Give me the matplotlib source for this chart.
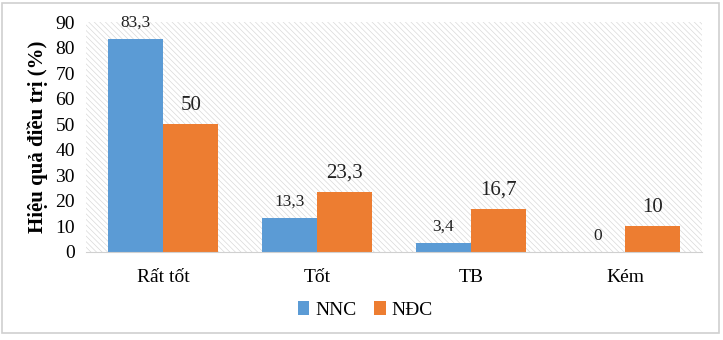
import numpy as np
import matplotlib
matplotlib.use("Agg")
import matplotlib.pyplot as plt
from matplotlib.patches import Rectangle

categories = ["Rất tốt", "Tốt", "TB", "Kém"]
nnc = [83.3, 13.3, 3.4, 0]
ndc = [50, 23.3, 16.7, 10]
nnc_labels = ["83,3", "13,3", "3,4", "0"]
ndc_labels = ["50", "23,3", "16,7", "10"]

plt.rcParams['font.family'] = ['Liberation Serif', 'DejaVu Serif']
plt.rcParams['hatch.linewidth'] = 0.5
plt.rcParams['hatch.color'] = '#d9d9d9'

fig = plt.figure(figsize=(7.23, 3.4), dpi=100)
ax = fig.add_axes([0.119, 0.259, 0.852, 0.676])

# hatched plot background
ax.patch.set_facecolor('white')
ax.patch.set_hatch('\\\\\\\\\\\\')
ax.patch.set_edgecolor('#d9d9d9')
ax.patch.set_linewidth(0)

x = np.arange(len(categories))
w = 0.36
b1 = ax.bar(x - w / 2, nnc, w, color='#5B9BD5', label='NNC', zorder=3)
b2 = ax.bar(x + w / 2, ndc, w, color='#ED7D31', label='NĐC', zorder=3)

for rect, lab in zip(b1, nnc_labels):
    ax.annotate(lab, (rect.get_x() + rect.get_width() / 2, rect.get_height()),
                xytext=(0, 6), textcoords='offset points', ha='center', va='bottom',
                fontsize=12.5, color='#222222')
for rect, lab in zip(b2, ndc_labels):
    ax.annotate(lab, (rect.get_x() + rect.get_width() / 2, rect.get_height()),
                xytext=(0, 7), textcoords='offset points', ha='center', va='bottom',
                fontsize=15, color='#222222')

ax.set_xlim(-0.5, 3.5)
ax.set_ylim(0, 90)
ax.set_yticks(range(0, 91, 10))
ax.set_xticks(x)
ax.set_xticklabels(categories, fontsize=14)
ax.tick_params(axis='y', labelsize=14, length=0, pad=8)
ax.tick_params(axis='x', length=0, pad=12)
for s in ['top', 'right', 'left']:
    ax.spines[s].set_visible(False)
ax.spines['bottom'].set_color('#d0d0d0')
ax.spines['bottom'].set_zorder(4)

ax.set_ylabel('Hiệu quả điều trị (%)', fontsize=15, fontweight='bold', labelpad=5)

fig.legend(handles=[b1, b2], loc='center', bbox_to_anchor=(0.505, 0.088), ncol=2,
           frameon=False, fontsize=14, handlelength=0.6, handleheight=0.7,
           handletextpad=0.3, columnspacing=0.9)

# outer border
fig.patches.append(Rectangle((0.003, 0.02), 0.992, 0.97, transform=fig.transFigure,
                             fill=False, edgecolor='#d0d0d0', linewidth=1.2))

fig.savefig('out.png', dpi=100)
